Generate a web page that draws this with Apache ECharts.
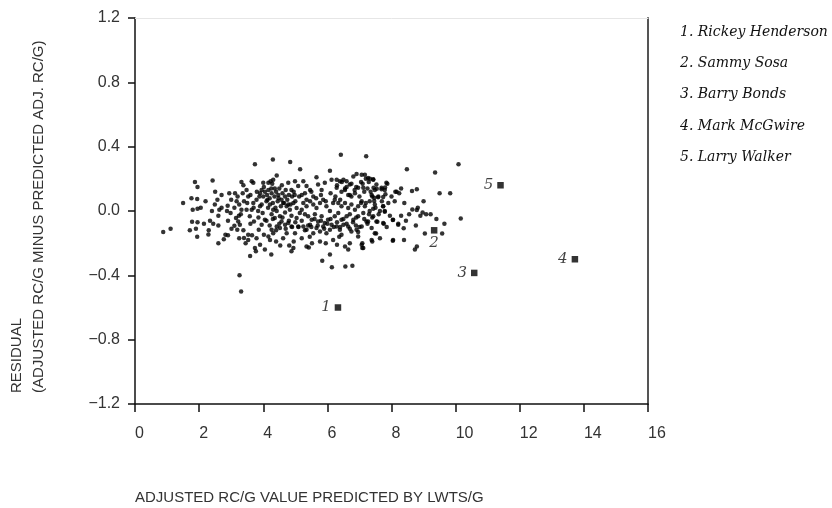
<!DOCTYPE html>
<html><head><meta charset="utf-8">
<script src="https://cdn.jsdelivr.net/npm/echarts@6/dist/echarts.min.js"></script>
<style>html,body{margin:0;padding:0;background:#fff}#c{width:832px;height:508px}</style>
</head><body><div id="c"></div><script>
// ---- data ----
var xTicks = [0, 2, 4, 6, 8, 10, 12, 14, 16];
var yTicks = [-1.2, -0.8, -0.4, 0.0, 0.4, 0.8, 1.2];

var pointsLeft = [
 [0.88,-0.13],[1.11,-0.11],[1.50,0.05],[1.76,0.08],[1.94,0.075],[1.80,0.008],[1.95,0.014],
 [1.78,-0.067],[1.95,-0.07],[1.71,-0.12],[1.90,-0.11],[1.94,-0.16],[1.87,0.18],[1.95,0.15],
 [2.29,-0.146],[2.42,0.19],[2.49,0.04],[2.57,0.07],[2.63,0.008],[2.77,-0.175],[2.82,-0.148],
 [2.94,0.11],[2.98,-0.013],[2.87,0.0],[3.01,-0.11],[2.34,-0.06],[2.44,-0.08],[2.60,-0.03],
 [2.70,0.02],[2.89,0.033],[2.7,0.1],[2.6,-0.09],[2.5,0.12],[2.4,0.0],[2.2,0.06],[2.15,-0.08],
 [2.05,0.02],[2.3,-0.12],[2.9,-0.06],[3.0,0.07],[2.9,-0.15],[2.6,-0.2]
];
var pointsCoreA = [
 [3.12,0.11],[3.17,0.06],[3.25,0.04],[3.32,0.18],[3.38,0.16],[3.36,0.11],[3.48,0.13],[3.53,0.09],
 [3.64,0.185],[3.69,0.175],[3.74,0.29],[3.15,-0.044],[3.24,-0.03],[3.27,-0.086],[3.38,-0.12],
 [3.53,-0.148],[3.40,-0.168],[3.53,-0.18],[3.79,-0.17],[3.74,-0.23],[3.77,-0.25],[3.59,-0.28],
 [3.22,-0.065],[3.10,-0.092],[3.19,-0.117],[3.26,-0.40],[3.31,-0.50],[3.69,0.05],[3.79,0.07],
 [3.88,0.09],[3.95,0.13],[4.00,0.175],[3.90,0.03],[3.84,0.0],[3.98,-0.013],[4.05,-0.055],
 [3.95,-0.085],[3.86,-0.117],[4.02,-0.148],[3.64,0.008],[3.58,-0.033],[3.71,-0.065],[3.48,0.008],
 [3.32,0.008],[3.5,0.05],[3.6,0.1],[3.7,0.02],[3.8,0.12],[3.85,-0.04],[3.6,-0.08],[3.4,0.06],
 [3.3,-0.02],[3.2,0.09],[3.1,0.02],[3.45,-0.2],[3.9,-0.21],[3.65,-0.15],[4.05,-0.24],[3.25,-0.17]
];
var pointsCoreB = [
 [4.16,0.175],[4.30,0.32],[4.23,0.185],[4.31,0.195],[4.42,0.22],[4.16,0.13],[4.26,0.11],[4.36,0.14],
 [4.47,0.10],[4.57,0.07],[4.68,0.09],[4.78,0.175],[4.84,0.305],[4.88,0.13],[4.99,0.185],[5.09,0.155],
 [5.12,0.09],[4.13,0.07],[4.21,0.04],[4.31,0.008],[4.42,0.0],[4.26,-0.02],[4.36,-0.044],[4.52,-0.033],
 [4.62,0.05],[4.73,0.03],[4.83,0.008],[4.94,0.05],[5.04,0.018],[4.57,-0.065],[4.68,-0.085],
 [4.78,-0.075],[4.88,-0.096],[4.52,-0.106],[4.42,-0.096],[4.31,-0.138],[4.26,-0.117],[4.16,-0.158],
 [4.21,-0.18],[4.25,-0.27],[4.53,-0.215],[4.81,-0.215],[4.94,-0.23],[4.88,-0.25],[4.99,-0.138],
 [5.09,-0.096],[4.73,-0.138],[4.62,-0.17],[5.04,-0.044],[5.14,-0.013],
 [3.9,0.11],[4.0,0.09],[4.05,0.12],[4.1,0.06],[4.12,0.1],[4.2,0.08],[4.25,0.14],[4.3,0.05],
 [4.35,0.09],[4.4,0.12],[4.45,0.06],[4.5,0.14],[4.55,0.03],[4.6,0.11],[4.65,0.05],[4.7,0.13],
 [4.75,0.07],[4.8,0.1],[4.85,0.04],[4.9,0.09],[4.95,0.12],[5.0,0.06],[3.95,0.04],[4.02,0.15],
 [4.15,0.02],[4.28,0.17],[4.38,0.02],[4.48,0.08],[4.58,0.16],[4.68,-0.01],[4.78,0.04],[4.88,-0.03],
 [4.98,0.1],[4.1,-0.06],[4.2,-0.09],[4.3,-0.05],[4.4,-0.12],[4.5,-0.08],[4.6,-0.04],[4.7,-0.11],
 [4.8,-0.06],[4.9,-0.1],[5.0,-0.07],[4.4,-0.19],[4.95,-0.19]
];
var pointsCoreC = [
 [5.15,0.26],[5.25,0.185],[5.35,0.155],[5.30,0.11],[5.46,0.13],[5.56,0.09],[5.66,0.21],[5.71,0.165],
 [5.82,0.13],[5.92,0.175],[6.08,0.25],[6.13,0.195],[5.25,0.05],[5.35,0.03],[5.46,0.06],[5.56,0.04],
 [5.66,0.018],[5.77,0.05],[5.87,0.07],[5.97,0.03],[6.08,0.0],[6.18,0.05],[5.20,0.008],[5.30,-0.02],
 [5.40,-0.033],[5.51,-0.055],[5.61,-0.02],[5.71,-0.065],[5.82,-0.033],[5.92,-0.075],[6.02,-0.055],
 [6.13,-0.085],[5.25,-0.096],[5.35,-0.117],[5.46,-0.085],[5.56,-0.138],[5.66,-0.106],[5.77,-0.127],
 [5.87,-0.096],[5.97,-0.138],[6.08,-0.117],[5.42,-0.227],[5.52,-0.20],[5.20,-0.17],[5.35,-0.22],
 [5.84,-0.31],[6.08,-0.27],[6.14,-0.35],[5.77,-0.19],[6.18,-0.18],
 [5.1,-0.1],[5.2,-0.06],[5.3,-0.12],[5.4,-0.09],[5.5,-0.1],[5.6,-0.05],[5.7,-0.09],[5.8,-0.06],
 [5.9,-0.11],[6.0,-0.08],[6.1,-0.05],[5.2,0.1],[5.35,0.07],[5.5,0.12],[5.65,0.08],[5.8,0.1],
 [5.95,0.06],[6.1,0.11],[5.45,-0.16],[5.95,-0.2]
];
var pointsCoreD = [
 [6.42,0.35],[7.21,0.34],[6.91,0.23],[6.29,0.195],[6.39,0.185],[6.50,0.195],[6.60,0.185],[6.70,0.165],
 [6.81,0.215],[7.07,0.225],[7.17,0.225],[6.29,0.145],[6.44,0.12],[6.55,0.13],[6.65,0.10],[6.75,0.09],
 [6.86,0.11],[6.96,0.145],[7.12,0.145],[6.23,0.07],[6.34,0.05],[6.44,0.03],[6.55,0.05],[6.65,0.018],
 [6.75,0.04],[6.86,0.008],[6.96,0.03],[7.07,0.06],[7.17,0.03],[6.23,-0.033],[6.34,-0.013],[6.44,-0.055],
 [6.60,-0.033],[6.70,-0.02],[6.81,-0.055],[6.96,-0.033],[7.12,-0.013],[7.22,-0.065],[6.29,-0.096],
 [6.39,-0.117],[6.50,-0.085],[6.65,-0.096],[6.75,-0.127],[6.91,-0.117],[7.07,-0.096],[6.44,-0.148],
 [6.55,-0.22],[6.65,-0.24],[6.70,-0.20],[7.07,-0.21],[7.12,-0.23],[6.56,-0.345],[6.78,-0.34],
 [6.37,-0.16],[6.96,-0.158],[6.2,-0.1],[6.3,-0.07],[6.4,-0.1],[6.5,-0.05],[6.6,-0.08],[6.7,-0.11],
 [6.8,-0.07],[6.9,-0.04],[7.0,-0.1],[6.25,0.09],[6.4,0.07],[6.55,0.14],[6.7,0.1],[6.85,0.13],
 [7.0,0.09],[7.15,0.12],[6.3,0.16],[6.45,0.18],[6.6,0.15],[6.75,0.17],[6.9,0.15],[7.05,0.18],
 [6.3,-0.21],[6.96,-0.13],[6.89,-0.09],[7.09,-0.20],[7.09,-0.23]
];
var pointsRight = [
 [7.27,0.205],[7.43,0.195],[7.53,0.165],[7.69,0.145],[7.84,0.175],[7.79,0.13],[7.48,0.13],[7.38,0.10],
 [7.59,0.09],[7.32,0.06],[7.48,0.04],[7.74,0.03],[7.64,0.0],[7.79,0.0],[7.32,0.0],[7.43,-0.033],
 [7.27,-0.065],[7.53,-0.065],[7.74,-0.075],[7.38,-0.106],[8.05,-0.055],[8.16,0.12],[8.21,-0.085],
 [8.05,-0.18],[7.48,-0.138],[7.38,-0.18],[7.64,-0.17],[7.1,0.17],[7.2,0.2],[7.25,0.14],[7.35,0.12],
 [7.4,0.09],[7.3,-0.02],[7.2,0.05],[7.15,-0.05],[7.05,0.05],[7.25,-0.08],[7.4,-0.04],[7.6,-0.02],
 [7.7,0.06],[7.5,0.02],[7.9,0.05],[7.95,-0.03],[8.0,0.09],[8.1,0.06],[7.85,-0.1],[8.3,0.14],
 [8.4,0.05],[8.55,-0.02],[8.65,0.01],[8.9,-0.03],[9.0,0.06],[8.45,-0.06],[9.4,-0.05],
 [8.48,0.26],[9.36,0.24],[10.09,0.29],[9.50,0.11],[9.83,0.11],[10.16,-0.046],[9.65,-0.08],[9.58,-0.14],
 [9.04,-0.14],[8.76,-0.09],[8.79,-0.22],[8.73,-0.24],[9.22,-0.02],[9.08,-0.02],[8.97,-0.01],
 [8.82,0.02],[8.79,0.006],[8.64,0.125],[8.79,0.135],[8.12,0.12],[8.24,0.11],[8.39,-0.18],[8.04,-0.185],
 [8.38,-0.107],[8.21,-0.08],[8.04,-0.056],[8.30,-0.03],[7.74,0.03],[7.79,-0.004],[7.76,-0.08],
 [7.56,-0.067],[7.52,-0.14],[7.40,-0.19],[7.87,0.17],[7.80,0.146],[7.69,0.135],[7.54,0.138],
 [7.44,0.144],[7.43,0.198],[7.33,0.20],[7.29,0.18],[7.81,0.104],[7.74,0.087],[7.58,0.085],
 [7.46,0.083],[7.46,0.062],[7.43,0.014]
];

var playerNames = ['Rickey Henderson', 'Sammy Sosa', 'Barry Bonds', 'Mark McGwire', 'Larry Walker'];
var playerLabels = ['1', '2', '3', '4', '5'];
var playerX = [6.33, 9.33, 10.58, 13.72, 11.40];
var playerY = [-0.60, -0.12, -0.385, -0.30, 0.16];

// ---- chart ----
var dots = [].concat(pointsLeft, pointsCoreA, pointsCoreB, pointsCoreC, pointsCoreD, pointsRight);
var players = playerX.map(function (x, i) {
  var d = { value: [x, playerY[i]], name: playerNames[i], label: { formatter: playerLabels[i] } };
  if (i === 1) { d.label.position = 'bottom'; d.label.distance = 2; }
  return d;
});

var serif = "'DejaVu Serif', 'Liberation Serif', serif";
var sans = "'Liberation Sans', Arial, sans-serif";

var legendText = playerNames.map(function (n, i) {
  return { type: 'text', x: 680, y: 32 + i * 31.3,
    style: { text: playerLabels[i] + '. ' + n, font: 'italic 14px ' + serif, fill: '#111',
      textAlign: 'left', textVerticalAlign: 'middle' } };
});

var chart = echarts.init(document.getElementById('c'), null, { renderer: 'canvas' });
chart.setOption({
  animation: false,
  backgroundColor: '#fff',
  grid: { left: 135, right: 184, top: 18, bottom: 104, containLabel: false },
  xAxis: [{
    type: 'value', min: xTicks[0], max: xTicks[xTicks.length - 1], interval: 2, position: 'bottom',
    axisLine: { onZero: false, lineStyle: { color: '#111', width: 1.5 } },
    axisTick: { show: true, length: 8, lineStyle: { color: '#111', width: 1.5 } },
    axisLabel: { margin: 22, align: 'left', color: '#333', fontSize: 16, fontFamily: sans },
    splitLine: { show: false }
  }, {
    type: 'value', min: xTicks[0], max: xTicks[xTicks.length - 1], position: 'top',
    axisLine: { show: true, onZero: false, lineStyle: { color: '#e6e6e6', width: 1 } },
    axisTick: { show: false }, axisLabel: { show: false }, splitLine: { show: false }
  }],
  yAxis: [{
    type: 'value', min: yTicks[0], max: yTicks[yTicks.length - 1], interval: 0.4,
    axisLine: { onZero: false, lineStyle: { color: '#111', width: 1.5 } },
    axisTick: { show: true, length: 7, lineStyle: { color: '#111', width: 1.5 } },
    axisLabel: { margin: 15, color: '#333', fontSize: 16, fontFamily: sans,
      formatter: function (v) { var r = Math.round(v * 10) / 10; return (r < 0 ? '\u2212' : '') + Math.abs(r).toFixed(1); } },
    splitLine: { show: false }
  }, {
    type: 'value', min: yTicks[0], max: yTicks[yTicks.length - 1], position: 'right',
    axisLine: { show: true, onZero: false, lineStyle: { color: '#555', width: 2 } },
    axisTick: { show: false }, axisLabel: { show: false }, splitLine: { show: false }
  }],
  series: [{
    type: 'scatter', data: dots, symbol: 'circle', symbolSize: 4.5,
    itemStyle: { color: '#000' }, silent: true
  }, {
    type: 'scatter', data: players, symbol: 'rect', symbolSize: 6.5,
    itemStyle: { color: '#000' },
    label: { show: true, position: 'left', distance: 4, color: '#111',
      fontFamily: serif, fontStyle: 'italic', fontSize: 15 }
  }],
  graphic: legendText.concat([
    { type: 'text', x: 17, y: 393, rotation: Math.PI / 2,
      style: { text: 'RESIDUAL', font: '15px ' + sans, fill: '#333', textAlign: 'left', textVerticalAlign: 'middle' } },
    { type: 'text', x: 39, y: 393, rotation: Math.PI / 2,
      style: { text: '(ADJUSTED RC/G MINUS PREDICTED ADJ. RC/G)', font: '15px ' + sans, fill: '#333', textAlign: 'left', textVerticalAlign: 'middle' } },
    { type: 'text', x: 135, y: 498,
      style: { text: 'ADJUSTED RC/G VALUE PREDICTED BY LWTS/G', font: '15px ' + sans, fill: '#333', textAlign: 'left', textVerticalAlign: 'middle' } }
  ])
});
</script></body></html>
